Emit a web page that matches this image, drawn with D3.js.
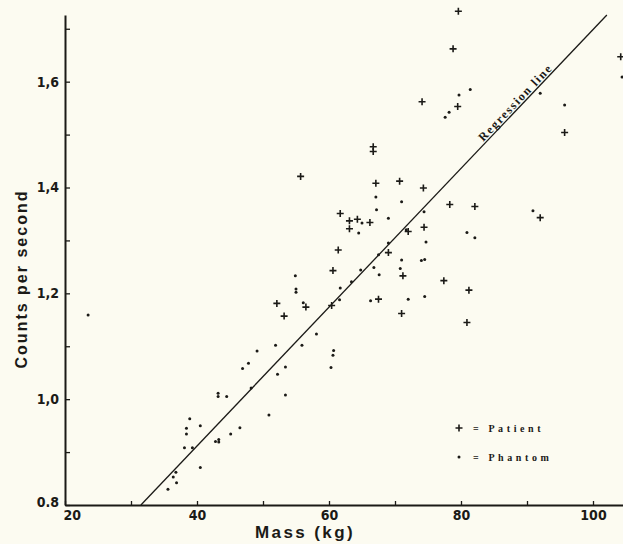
<!DOCTYPE html>
<html>
<head>
<meta charset="utf-8">
<script src="https://cdn.jsdelivr.net/npm/d3@7"></script>
<style>
  html, body { margin: 0; padding: 0; background: #fcfbf1; }
  svg { display: block; }
</style>
</head>
<body>
<div id="chart"></div>
<script>
// patients (+)
const patientMass = [79.6, 78.8, 74.1, 79.5, 95.7, 70.7, 74.3, 66.7, 66.7, 55.7,
  67.1, 61.7, 63.1, 64.3, 66.2, 63.1, 72.0, 74.4, 78.3, 82.1,
  92.0, 61.4, 69.0, 60.6, 71.2, 77.4, 81.2, 67.5, 60.4, 52.1,
  56.5, 53.2, 71.0, 80.9, 104.2]
const patientCounts = [1.733, 1.662, 1.562, 1.553, 1.504, 1.412, 1.399, 1.477, 1.468, 1.421,
  1.408, 1.351, 1.337, 1.340, 1.334, 1.322, 1.317, 1.325, 1.368, 1.364,
  1.343, 1.282, 1.277, 1.243, 1.233, 1.224, 1.206, 1.189, 1.177, 1.181,
  1.174, 1.157, 1.162, 1.145, 1.647]

// phantoms (dots)
const phantomMass = [55.0, 55.0, 51.9, 49.1, 47.8, 46.9, 53.4, 52.2, 48.2, 53.4,
  43.2, 43.2, 44.5, 50.9, 38.9, 38.4, 40.5, 38.4, 46.5, 45.1,
  42.8, 43.3, 43.3, 38.1, 39.3, 40.5, 36.8, 36.4, 36.9, 35.6,
  67.1, 71.0, 67.2, 69.0, 65.0, 64.5, 71.7, 67.5, 71.0, 64.8,
  66.8, 70.8, 67.6, 54.9, 63.4, 61.7, 56.1, 61.6, 66.3, 72.0,
  81.4, 79.7, 77.6, 78.2, 92.0, 95.7, 74.4, 90.9, 80.9, 82.1,
  74.7, 69.0, 74.0, 74.5, 74.5, 58.1, 55.9, 60.7, 60.6, 60.3,
  23.5, 104.4]
const phantomCounts = [1.208, 1.202, 1.102, 1.091, 1.068, 1.058, 1.061, 1.047, 1.021, 1.008,
  1.011, 1.005, 1.005, 0.970, 0.963, 0.945, 0.950, 0.934, 0.946, 0.934,
  0.920, 0.924, 0.919, 0.908, 0.908, 0.871, 0.862, 0.853, 0.842, 0.830,
  1.382, 1.373, 1.358, 1.342, 1.333, 1.314, 1.320, 1.273, 1.263, 1.244,
  1.249, 1.247, 1.235, 1.233, 1.222, 1.210, 1.182, 1.188, 1.186, 1.189,
  1.585, 1.575, 1.533, 1.542, 1.578, 1.556, 1.354, 1.356, 1.315, 1.305,
  1.297, 1.295, 1.262, 1.264, 1.194, 1.123, 1.102, 1.092, 1.083, 1.060,
  1.159, 1.609]

// regression line end points
const regressionMass = [31.5, 102.1]
const regressionCounts = [0.8, 1.726]

const xTickValues = [20, 30, 40, 50, 60, 70, 80, 90, 100]
const xTickLabels = ['20', '', '40', '', '60', '', '80', '', '100']
const yTickValues = [0.8, 0.9, 1.0, 1.1, 1.2, 1.3, 1.4, 1.5, 1.6, 1.7]
const yTickLabels = ['0.8', '', '1,0', '', '1,2', '', '1,4', '', '1,6', '']

const legendLabels = ['= Patient', '= Phantom']

const width = 623
const height = 544
const ink = '#1b1a17'
const tickFont = '"Liberation Sans Narrow", "DejaVu Sans Condensed", sans-serif'
const serif = '"Liberation Serif", "DejaVu Serif", serif'

const x = d3.scaleLinear().domain([20, 105]).range([65, 626])
const y = d3.scaleLinear().domain([0.8, 1.726]).range([505, 15])

const svg = d3.select('#chart')
  .append('svg')
  .attr('width', width)
  .attr('height', height)

svg.append('rect')
  .attr('width', width)
  .attr('height', height)
  .attr('fill', '#fcfbf1')

// axes
const axisX = d3.axisBottom(x)
  .tickValues(xTickValues)
  .tickSizeInner(-4)
  .tickSizeOuter(0)
  .tickPadding(5)
  .tickFormat((d, i) => xTickLabels[i])

const gx = svg.append('g')
  .attr('class', 'axis axis--x')
  .attr('transform', 'translate(0,' + y(0.8) + ')')
  .call(axisX)

const axisY = d3.axisLeft(y)
  .tickValues(yTickValues)
  .tickSizeInner(-5)
  .tickSizeOuter(0)
  .tickPadding(6)
  .tickFormat((d, i) => yTickLabels[i])

const gy = svg.append('g')
  .attr('class', 'axis axis--y')
  .attr('transform', 'translate(' + x(20) + ',0)')
  .call(axisY)

svg.selectAll('.axis path.domain')
  .attr('stroke', ink)
  .attr('stroke-width', 2)
svg.selectAll('.axis .tick line')
  .attr('stroke', ink)
  .attr('stroke-width', 1.3)
svg.selectAll('.axis text')
  .attr('fill', ink)
  .attr('font-family', tickFont)
  .attr('font-weight', 'bold')
  .attr('font-size', 14)

// the corner labels are nudged so they don't collide
gx.selectAll('.tick text')
  .filter(d => d === 20)
  .attr('text-anchor', 'start')
  .attr('x', -2)
gy.selectAll('.tick text')
  .filter(d => d === 0.8)
  .attr('dy', '0.1em')

// axis titles
svg.append('text')
  .attr('x', 305)
  .attr('y', 538)
  .attr('text-anchor', 'middle')
  .attr('font-family', '"Liberation Sans", Arial, sans-serif')
  .attr('font-weight', 'bold')
  .attr('font-size', 17)
  .attr('letter-spacing', 2.4)
  .attr('fill', ink)
  .text('Mass (kg)')

svg.append('text')
  .attr('transform', 'translate(27,279) rotate(-90)')
  .attr('text-anchor', 'middle')
  .attr('font-family', '"Liberation Sans", Arial, sans-serif')
  .attr('font-weight', 'bold')
  .attr('font-size', 16)
  .attr('letter-spacing', 2)
  .attr('fill', ink)
  .text('Counts per second')

// regression line
svg.append('line')
  .attr('x1', x(regressionMass[0]))
  .attr('y1', y(regressionCounts[0]))
  .attr('x2', x(regressionMass[1]))
  .attr('y2', y(regressionCounts[1]))
  .attr('stroke', ink)
  .attr('stroke-width', 1.3)

const slope = (regressionCounts[1] - regressionCounts[0]) / (regressionMass[1] - regressionMass[0])
const labelMass = 83.6
const labelCounts = regressionCounts[0] + slope * (labelMass - regressionMass[0])
const angle = Math.atan2(
  y(regressionCounts[1]) - y(regressionCounts[0]),
  x(regressionMass[1]) - x(regressionMass[0])
) * 180 / Math.PI

svg.append('text')
  .attr('transform', 'translate(' + x(labelMass) + ',' + y(labelCounts) + ') rotate(' + angle + ')')
  .attr('dy', -2)
  .attr('font-family', serif)
  .attr('font-weight', 'bold')
  .attr('font-size', 12)
  .attr('letter-spacing', 1.6)
  .attr('fill', ink)
  .text('Regression line')

// points
function drawPlus(g, cx, cy, arm) {
  g.append('path')
    .attr('d', 'M' + (cx - arm) + ',' + cy + 'H' + (cx + arm) + 'M' + cx + ',' + (cy - arm) + 'V' + (cy + arm))
    .attr('stroke', ink)
    .attr('stroke-width', 1.6)
    .attr('fill', 'none')
}

const plot = svg.append('g').attr('class', 'g-plot')

const phantoms = phantomMass.map((m, i) => ({ mass: m, counts: phantomCounts[i] }))
const patients = patientMass.map((m, i) => ({ mass: m, counts: patientCounts[i] }))

plot.selectAll('.phantom')
  .data(phantoms)
  .enter()
  .append('circle')
  .attr('class', 'phantom')
  .attr('cx', d => x(d.mass))
  .attr('cy', d => y(d.counts))
  .attr('r', 1.5)
  .attr('fill', ink)

plot.selectAll('.patient')
  .data(patients)
  .enter()
  .append('path')
  .attr('class', 'patient')
  .attr('d', d => {
    const cx = x(d.mass)
    const cy = y(d.counts)
    return 'M' + (cx - 3.5) + ',' + cy + 'H' + (cx + 3.5) + 'M' + cx + ',' + (cy - 3.5) + 'V' + (cy + 3.5)
  })
  .attr('stroke', ink)
  .attr('stroke-width', 1.6)

// legend
const legend = svg.append('g').attr('class', 'legend')
drawPlus(legend, 459, 428, 3.5)
legend.append('circle')
  .attr('cx', 459)
  .attr('cy', 457)
  .attr('r', 1.5)
  .attr('fill', ink)

legend.selectAll('text')
  .data(legendLabels)
  .enter()
  .append('text')
  .attr('x', 473)
  .attr('y', (d, i) => 431.5 + i * 29)
  .attr('font-family', serif)
  .attr('font-weight', 'bold')
  .attr('font-size', 10)
  .attr('letter-spacing', 3.6)
  .attr('fill', ink)
  .text(d => d)
</script>
</body>
</html>
